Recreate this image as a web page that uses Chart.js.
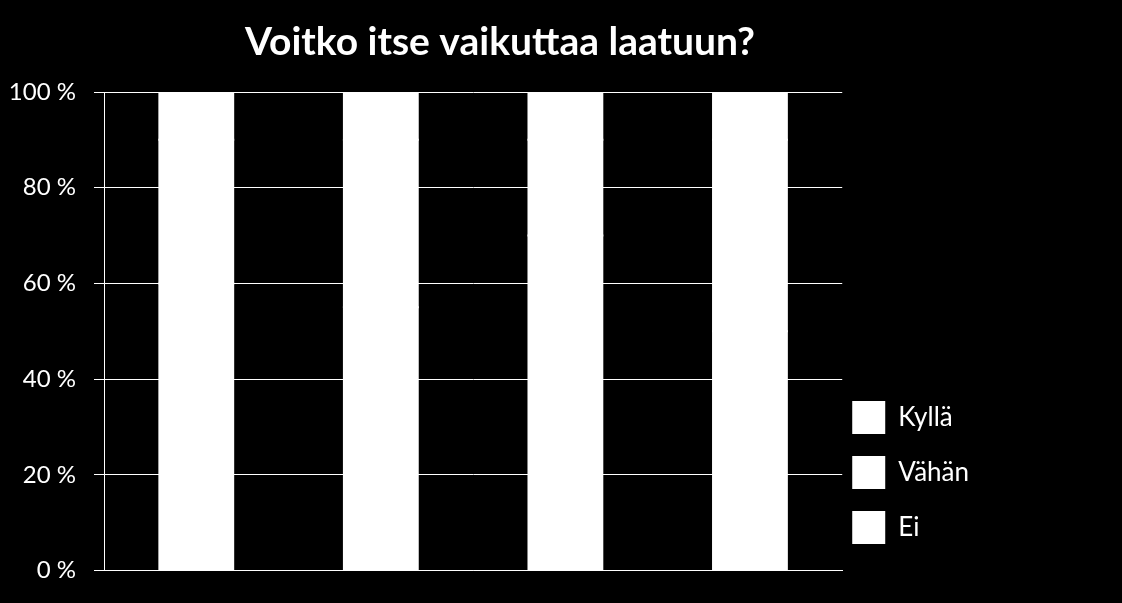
<!DOCTYPE html>
<html>
<head>
<meta charset="utf-8">
<script src="https://cdn.jsdelivr.net/npm/chart.js@4/dist/chart.umd.min.js"></script>
<style>
html,body{margin:0;padding:0;background:#000;overflow:hidden;}
canvas{display:block;}
</style>
</head>
<body>
<canvas id="chart" width="1122" height="603"></canvas>
<script>
// the bars are solid white in the picture, so the split is an estimate
let categories = ['1', '2', '3', '4'];
let kylla = [60, 55, 70, 50];
let vahan = [30, 35, 20, 40];
let ei = [10, 10, 10, 10];
let yTicks = [0, 20, 40, 60, 80, 100];

let font = 'Lato, "Open Sans", sans-serif';

// title drawn over the plot+legend block, not the whole canvas
let titlePlugin = {
    id: 'titleText',
    afterLayout(chart){
        // nudge the legend up and closer to the plot
        let lg = chart.legend;
        lg.top -= 12; lg.bottom -= 12;
        lg.left -= 12; lg.right -= 12;
    },
    afterDraw(chart){
        let ctx = chart.ctx;
        ctx.save();
        ctx.fillStyle = '#fff';
        ctx.font = 'bold 39px ' + font;
        ctx.textAlign = 'center';
        ctx.textBaseline = 'middle';
        ctx.fillText('Voitko itse vaikuttaa laatuun?', 500, 42);
        ctx.restore();
    }
};

let ds = (label, data) => ({label:label, data:data, backgroundColor:'#fff', borderWidth:0, inflateAmount:1, barPercentage:0.4, categoryPercentage:1});

function draw(){
    new Chart(document.getElementById('chart'), {
        type:'bar',
        data:{labels:categories, datasets:[ds('Kyllä', kylla), ds('Vähän', vahan), ds('Ei', ei)]},
        options:{
            responsive:false, animation:false, devicePixelRatio:1,
            layout:{autoPadding:false, padding:{top:92, bottom:25, left:6, right:131}},
            plugins:{
                tooltip:{enabled:false},
                legend:{
                    position:'right', align:'end',
                    labels:{color:'#fff', font:{family:font, size:26}, boxWidth:33, boxHeight:33, padding:22}
                }
            },
            scales:{
                x:{stacked:true, ticks:{display:false}, grid:{display:false, drawTicks:false}, border:{color:'#fff', width:1},
                   afterFit(axis){ axis.height = 0; }},
                y:{
                    stacked:true, min:0, max:100,
                    afterBuildTicks(axis){ axis.ticks = yTicks.map(v => ({value:v})); },
                    afterFit(axis){ axis.width = 98; },
                    ticks:{color:'#fff', font:{family:font, size:24}, padding:18, callback:v => v + ' %'},
                    grid:{color:'#fff', lineWidth:1, tickLength:10},
                    border:{color:'#fff', width:1}
                }
            }
        },
        plugins:[titlePlugin]
    });
}

Promise.all([document.fonts.load('24px Lato'), document.fonts.load('bold 39px Lato')]).then(draw, draw);
</script>
</body>
</html>
